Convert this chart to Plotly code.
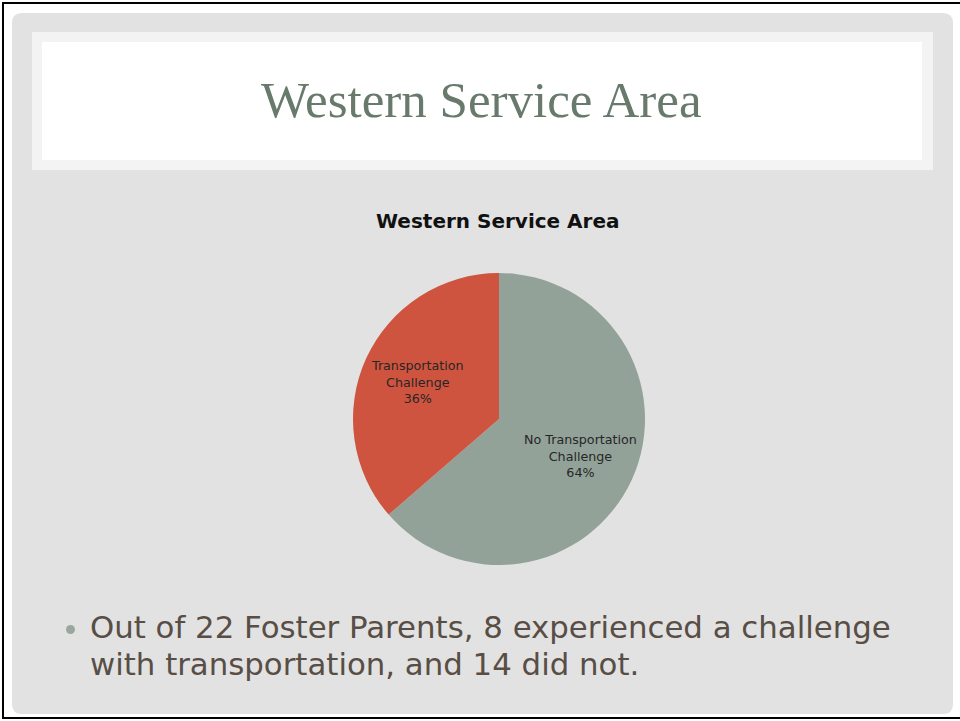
import math
import plotly.graph_objects as go

# Data
categories = ["No Transportation Challenge", "Transportation Challenge"]
counts = [14, 8]
slice_colors = ["#93a299", "#cf543f"]
slide_title = "Western Service Area"
chart_title = "Western Service Area"
bullet_lines = [
    "Out of 22 Foster Parents, 8 experienced a challenge",
    "with transportation, and 14 did not.",
]

W, H = 960, 721


def px(x):
    return x / W


def py(y):
    return 1 - y / H


def rounded_rect(x0, y0, x1, y1, r):
    """SVG path (paper coords) for a rounded rectangle given in pixel coords."""
    pts = [
        f"M {px(x0 + r)} {py(y0)}",
        f"L {px(x1 - r)} {py(y0)}",
        f"Q {px(x1)} {py(y0)} {px(x1)} {py(y0 + r)}",
        f"L {px(x1)} {py(y1 - r)}",
        f"Q {px(x1)} {py(y1)} {px(x1 - r)} {py(y1)}",
        f"L {px(x0 + r)} {py(y1)}",
        f"Q {px(x0)} {py(y1)} {px(x0)} {py(y1 - r)}",
        f"L {px(x0)} {py(y0 + r)}",
        f"Q {px(x0)} {py(y0)} {px(x0 + r)} {py(y0)}",
        "Z",
    ]
    return " ".join(pts)


# pie placement (pixels)
pie_cx, pie_cy, pie_r = 499, 419, 146

fig = go.Figure(
    go.Pie(
        labels=categories,
        values=counts,
        textinfo="none",
        marker=dict(colors=slice_colors, line=dict(width=0)),
        sort=False,
        direction="clockwise",
        rotation=0,
        showlegend=False,
        domain=dict(x=[px(pie_cx - pie_r), px(pie_cx + pie_r)],
                    y=[py(pie_cy + pie_r), py(pie_cy - pie_r)]),
    )
)

shapes = [
    # grey content panel
    dict(type="path", xref="paper", yref="paper",
         path=rounded_rect(12, 13, 953, 714, 10),
         fillcolor="#e2e2e2", line=dict(width=0), layer="below"),
    # title band
    dict(type="rect", xref="paper", yref="paper",
         x0=px(32), x1=px(933), y0=py(170), y1=py(32),
         fillcolor="#f3f3f3", line=dict(width=0), layer="below"),
    dict(type="rect", xref="paper", yref="paper",
         x0=px(42), x1=px(922), y0=py(160), y1=py(42),
         fillcolor="#ffffff", line=dict(width=0), layer="below"),
    # bullet dot
    dict(type="circle", xref="paper", yref="paper",
         x0=px(66), x1=px(75), y0=py(634), y1=py(625),
         fillcolor="#9aa79f", line=dict(width=0), layer="above"),
]
# slide frame (left, top, bottom edges)
for x0, y0, x1, y1 in [(3, 2, 3, 719), (2, 3, 960, 3), (2, 718, 960, 718)]:
    shapes.append(dict(type="line", xref="paper", yref="paper",
                       x0=px(x0), y0=py(y0), x1=px(x1), y1=py(y1),
                       line=dict(color="#000000", width=2), layer="above"))

annotations = [
    dict(text=slide_title, x=px(481), y=py(100), xref="paper", yref="paper",
         showarrow=False, xanchor="center", yanchor="middle",
         font=dict(family="Liberation Serif", size=51, color="#687a6c")),
    dict(text=f"<b>{chart_title}</b>", x=px(498), y=py(221), xref="paper", yref="paper",
         showarrow=False, xanchor="center", yanchor="middle",
         font=dict(family="DejaVu Sans", size=20, color="#111111")),
]

# slice labels: category name and share, placed along each slice's mid-angle
total = sum(counts)
start = 0.0
for cat, val in zip(categories, counts):
    frac = val / total
    mid = (start + frac / 2) * 2 * math.pi  # clockwise from 12 o'clock
    start += frac
    lx = pie_cx + 0.61 * pie_r * math.sin(mid)
    ly = pie_cy - 0.61 * pie_r * math.cos(mid)
    label = cat.replace(" Challenge", "<br>Challenge")
    annotations.append(
        dict(text=f"{label}<br>{round(frac * 100)}%", x=px(lx), y=py(ly),
             xref="paper", yref="paper", showarrow=False,
             xanchor="center", yanchor="middle", align="center",
             font=dict(family="DejaVu Sans", size=12.7, color="#262626"))
    )

for i, line in enumerate(bullet_lines):
    annotations.append(
        dict(text=line, x=px(88), y=py(627 + 37 * i), xref="paper", yref="paper",
             showarrow=False, xanchor="left", yanchor="middle", align="left",
             font=dict(family="DejaVu Sans", size=30.8, color="#584e45"))
    )

fig.update_layout(
    width=W, height=H,
    margin=dict(l=0, r=0, t=0, b=0),
    paper_bgcolor="#ffffff",
    plot_bgcolor="#ffffff",
    shapes=shapes,
    annotations=annotations,
)

fig.write_html("out.html")
